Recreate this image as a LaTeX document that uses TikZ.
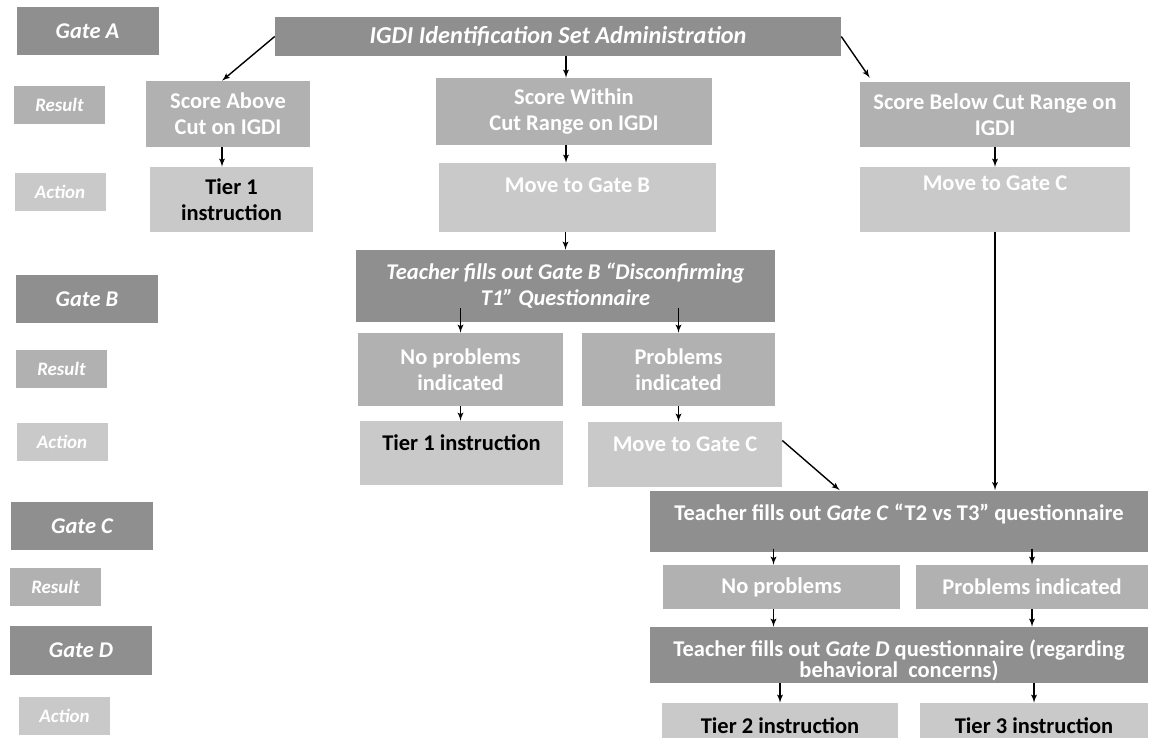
\documentclass[tikz,border=0pt]{standalone}
\usepackage{fontspec}
\setmainfont{Carlito}
\usepackage{xcolor}
\usepackage{tikz}
\usetikzlibrary{shapes, arrows}
\definecolor{gdark}{HTML}{8F8F8F}
\definecolor{gmid}{HTML}{B1B1B1}
\definecolor{glight}{HTML}{C9C9C9}
\tikzstyle{gate} = [rectangle, fill=gdark, text=white, font=\bfseries\itshape\fontsize{16}{18.5}\selectfont, minimum width=3.55cm, minimum height=1.2cm]
\tikzstyle{tag} = [rectangle, text=white, font=\bfseries\itshape\fontsize{13.5}{16}\selectfont, minimum width=2.275cm, minimum height=0.95cm]
\tikzstyle{head} = [rectangle, fill=gdark, text=white, align=center, font=\bfseries\fontsize{16}{18.5}\selectfont]
\tikzstyle{result} = [rectangle, fill=gmid, text=white, align=center, font=\bfseries\fontsize{16}{18.5}\selectfont]
\tikzstyle{action} = [rectangle, fill=glight, text=white, align=center, font=\bfseries\fontsize{16}{18.5}\selectfont]
\tikzstyle{topped} = [inner ysep=0pt]
\tikzstyle{connector} = [draw, -latex', line width=1pt]

\begin{document}
\begin{tikzpicture}
        \useasboundingbox (0,0) rectangle (28.725,-18.45);
        % row labels on the left
        \node [gate] at (2.1875,-0.7875) (gateA) {Gate A};
        \node [tag, fill=gmid] at (1.4875,-2.625) (resA) {Result};
        \node [tag, fill=glight] at (1.5,-4.8) (actA) {Action};
        \node [gate] at (2.175,-7.475) (gateB) {Gate B};
        \node [tag, fill=gmid] at (1.5375,-9.225) (resB) {Result};
        \node [tag, fill=glight] at (1.55,-11.05) (actB) {Action};
        \node [gate] at (2.05,-13.15) (gateC) {Gate C};
        \node [tag, fill=gmid] at (1.3875,-14.675) (resC) {Result};
        \node [gate, minimum height=1.225cm] at (2.025,-16.2625) (gateD) {Gate D};
        \node [tag, fill=glight] at (1.6125,-17.9) (actD) {Action};

        % gate A
        \node [head, font=\bfseries\itshape\fontsize{17.3}{19}\selectfont, minimum width=14.15cm, minimum height=0.975cm] at (13.95,-0.9125) (igdi)
        {IGDI Identification Set Administration};
        \node [result, minimum width=4.1cm, minimum height=1.65cm] at (5.7,-2.85) (above)
        {Score Above\\Cut on IGDI};
        \node [action, text=black, minimum width=4.075cm, minimum height=1.625cm] at (5.7875,-4.9875) (tierA)
        {Tier 1\\instruction};
        \node [result, minimum width=6.9cm, minimum height=1.675cm] at (14.35,-2.7875) (within)
        {Score Within\\Cut Range on IGDI};
        \node [action, topped, minimum width=6.925cm, text height=0.725cm, text depth=1.0cm] at (14.4375,-4.9375) (moveB)
        {Move to Gate B};
        \node [result, minimum width=6.75cm, minimum height=1.625cm] at (24.875,-2.8625) (below)
        {Score Below Cut Range on\\IGDI};
        \node [action, topped, minimum width=6.75cm, text height=0.6cm, text depth=1.025cm] at (24.875,-4.9875) (moveCtop)
        {Move to Gate C};

        % gate B
        \node [head, font=\bfseries\itshape\fontsize{16}{18.5}\selectfont, minimum width=10.475cm, minimum height=1.8cm] at (14.1375,-7.15) (teachB)
        {Teacher fills out Gate B “Disconfirming\\T1” Questionnaire};
        \node [result, minimum width=5.125cm, minimum height=1.825cm] at (11.5125,-9.2375) (noprobB)
        {No problems\\indicated};
        \node [result, minimum width=4.825cm, minimum height=1.825cm] at (16.9625,-9.2375) (probB)
        {Problems\\indicated};
        \node [action, topped, text=black, minimum width=5.075cm, text height=0.725cm, text depth=0.875cm] at (11.5375,-11.325) (tierB)
        {Tier 1 instruction};
        \node [action, topped, minimum width=4.85cm, text height=0.725cm, text depth=0.9cm] at (17.125,-11.3625) (moveCB)
        {Move to Gate C};

        % gates C and D
        \node [head, topped, minimum width=12.45cm, text height=0.75cm, text depth=0.775cm] at (22.475,-13.025) (teachC)
        {Teacher fills out \textit{Gate C} “T2 vs T3” questionnaire};
        \node [result, minimum width=5.925cm, minimum height=1.1cm] at (19.5375,-14.675) (noprobC)
        {No problems};
        \node [result, minimum width=5.8cm, minimum height=1.1cm] at (25.8,-14.675) (probC)
        {Problems indicated};
        \node [head, topped, font=\bfseries\fontsize{16}{15}\selectfont, minimum width=12.45cm, minimum height=1.4cm] at (22.475,-16.375) (teachD)
        {\rule{0pt}{20pt}Teacher fills out \textit{Gate D} questionnaire (regarding\\behavioral \ concerns)};
        \node [action, topped, text=black, minimum width=5.9cm, text height=0.75cm, text depth=0.125cm] at (19.5,-18.0125) (tier2)
        {Tier 2 instruction};
        \node [action, topped, text=black, minimum width=5.7cm, text height=0.75cm, text depth=0.125cm] at (25.85,-18.0125) (tier3)
        {Tier 3 instruction};

        \path [connector] (igdi.west) -- ([xshift=-0.15cm]above.north);
        \path [connector] ([xshift=-0.2cm]within.north |- igdi.south) -- ([xshift=-0.2cm]within.north);
        \path [connector] (igdi.east) -- ([xshift=0.25cm, yshift=0.1cm]below.north west);
        \path [connector] ([xshift=-0.15cm]above.south) -- ([xshift=-0.15cm]above.south |- tierA.north);
        \path [connector] ([xshift=-0.2cm]within.south) -- ([xshift=-0.2cm]within.south |- moveB.north);
        \path [connector] (below) -- (moveCtop);
        \path [connector] (teachB.north |- moveB.south) -- (teachB.north);
        \path [connector] (moveCtop.south) -- (moveCtop.south |- teachC.north);
        \path [connector] ([yshift=0.35cm]teachB.south -| noprobB.north) -- (noprobB.north);
        \path [connector] ([yshift=0.35cm]teachB.south -| probB.north) -- (probB.north);
        \path [connector] (noprobB.south) -- (noprobB.south |- tierB.north);
        \path [connector] (probB.south) -- (probB.south |- moveCB.north);
        \path [connector] ([yshift=0.35cm]moveCB.east) -- ([xshift=4.75cm]teachC.north west);
        \path [connector] ([xshift=-0.2cm, yshift=0.08cm]noprobC.north |- teachC.south) -- ([xshift=-0.2cm]noprobC.north);
        \path [connector] ([yshift=0.08cm]probC.north |- teachC.south) -- (probC.north);
        \path [connector] ([xshift=-0.2cm]noprobC.south) -- ([xshift=-0.2cm]noprobC.south |- teachD.north);
        \path [connector] (probC.south) -- (probC.south |- teachD.north);
        \path [connector] (tier2.north |- teachD.south) -- (tier2.north);
        \path [connector] (tier3.north |- teachD.south) -- (tier3.north);
\end{tikzpicture}
\end{document}
